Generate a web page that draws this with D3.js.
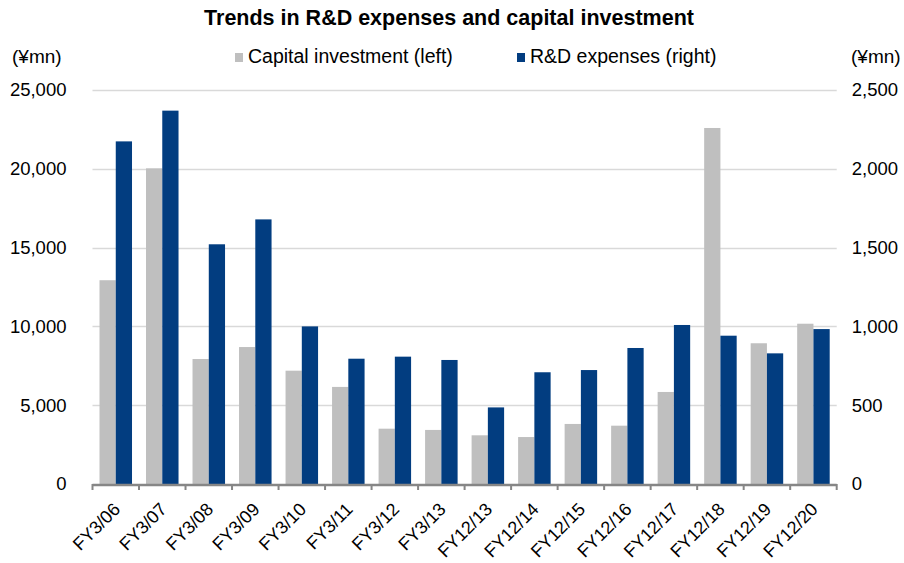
<!DOCTYPE html>
<html>
<head>
<meta charset="utf-8">
<script src="https://cdn.jsdelivr.net/npm/d3@7"></script>
<style>
  body { margin: 0; background: #fff; }
  svg text { font-family: "Liberation Sans", Arial, sans-serif; fill: #000; }
</style>
</head>
<body>
<svg id="chart" width="904" height="563"></svg>
<script>
var categories = ['FY3/06', 'FY3/07', 'FY3/08', 'FY3/09', 'FY3/10', 'FY3/11', 'FY3/12', 'FY3/13',
    'FY12/13', 'FY12/14', 'FY12/15', 'FY12/16', 'FY12/17', 'FY12/18', 'FY12/19', 'FY12/20'];
var capitalInvestment = [12930, 20030, 7930, 8690, 7190, 6160, 3510, 3430,
    3090, 2980, 3810, 3700, 5840, 22590, 8930, 10170];
var rdExpenses = [2174, 2369, 1521, 1679, 1000, 795, 808, 787,
    486, 709, 723, 863, 1009, 941, 829, 983];
var leftTicks = [0, 5000, 10000, 15000, 20000, 25000];
var rightTicks = [0, 500, 1000, 1500, 2000, 2500];

var GREY = '#bfbfbf';
var BLUE = '#023d80';

var svg = d3.select('#chart');
var margin = { left: 92.5, right: 904 - 836.7, top: 90, bottom: 563 - 484 };
var width = 904 - margin.left - margin.right;
var height = 563 - margin.top - margin.bottom;

var g = svg.append('g')
    .attr('transform', 'translate(' + margin.left + ',' + margin.top + ')');

var x = d3.scaleBand().domain(categories).range([0, width]).paddingInner(0).paddingOuter(0);
var inner = d3.scaleBand().domain([0, 1]).range([7, x.bandwidth() - 7]).padding(0);
var yLeft = d3.scaleLinear().domain([0, 25000]).range([height, 0]);
var yRight = d3.scaleLinear().domain([0, 2500]).range([height, 0]);

// Gridlines
g.append('g')
    .selectAll('line')
    .data(leftTicks.slice(1))
    .enter().append('line')
    .attr('x1', 0).attr('x2', width)
    .attr('y1', function(d) { return Math.round(yLeft(d)) + 0.5; })
    .attr('y2', function(d) { return Math.round(yLeft(d)) + 0.5; })
    .style('stroke', '#d9d9d9')
    .style('stroke-width', 1.5);

// Bars
g.append('g').selectAll('rect')
    .data(capitalInvestment)
    .enter().append('rect')
    .attr('x', function(d, i) { return x(categories[i]) + inner(0); })
    .attr('width', inner.bandwidth())
    .attr('y', function(d) { return yLeft(d); })
    .attr('height', function(d) { return height - yLeft(d); })
    .style('fill', GREY);

g.append('g').selectAll('rect')
    .data(rdExpenses)
    .enter().append('rect')
    .attr('x', function(d, i) { return x(categories[i]) + inner(1); })
    .attr('width', inner.bandwidth())
    .attr('y', function(d) { return yRight(d); })
    .attr('height', function(d) { return height - yRight(d); })
    .style('fill', BLUE);

// Left axis
var leftAxis = d3.axisLeft(yLeft).tickValues(leftTicks).tickSize(0).tickPadding(26)
    .tickFormat(d3.format(','));
var gl = g.append('g').call(leftAxis);
gl.select('.domain').remove();
gl.selectAll('text').style('font-size', '18.5px');

// Right axis
var rightAxis = d3.axisRight(yRight).tickValues(rightTicks).tickSize(0).tickPadding(15)
    .tickFormat(d3.format(','));
var gr = g.append('g').attr('transform', 'translate(' + width + ',0)').call(rightAxis);
gr.select('.domain').remove();
gr.selectAll('text').style('font-size', '18.5px');

// Bottom axis
var bottom = g.append('g').attr('transform', 'translate(0,' + height + ')');
bottom.append('line')
    .attr('x1', 0).attr('x2', width)
    .attr('y1', 1).attr('y2', 1)
    .style('stroke', '#868686').style('stroke-width', 2.5);
bottom.selectAll('line.tick')
    .data(categories.concat(['end']))
    .enter().append('line')
    .attr('class', 'tick')
    .attr('x1', function(d, i) { return i * x.step(); })
    .attr('x2', function(d, i) { return i * x.step(); })
    .attr('y1', 0).attr('y2', 6)
    .style('stroke', '#868686').style('stroke-width', 2);

var bottomAxis = d3.axisBottom(x).tickSize(0).tickPadding(0);
var gb = g.append('g').attr('transform', 'translate(0,' + height + ')').call(bottomAxis);
gb.select('.domain').remove();
gb.selectAll('text')
    .style('font-size', '18px')
    .style('text-anchor', 'end')
    .attr('dy', '0.35em')
    .attr('transform', 'translate(1,22) rotate(-45)');

// Title
svg.append('text')
    .attr('x', 449).attr('y', 25)
    .attr('text-anchor', 'middle')
    .style('font-size', '21.5px')
    .style('font-weight', 'bold')
    .text('Trends in R&D expenses and capital investment');

// Unit labels
svg.append('text').attr('x', 12).attr('y', 63).style('font-size', '19px').text('(¥mn)');
svg.append('text').attr('x', 851).attr('y', 63).style('font-size', '19px').text('(¥mn)');

// Legend
var legendItems = [
    { label: 'Capital investment (left)', color: GREY, x: 235 },
    { label: 'R&D expenses (right)', color: BLUE, x: 517 }
];
var lg = svg.append('g').selectAll('g')
    .data(legendItems)
    .enter().append('g')
    .attr('transform', function(d) { return 'translate(' + d.x + ',0)'; });
lg.append('rect')
    .attr('x', 0).attr('y', 53)
    .attr('width', 8).attr('height', 9)
    .style('fill', function(d) { return d.color; });
lg.append('text')
    .attr('x', 13).attr('y', 63)
    .style('font-size', '19.5px')
    .text(function(d) { return d.label; });
</script>
</body>
</html>
